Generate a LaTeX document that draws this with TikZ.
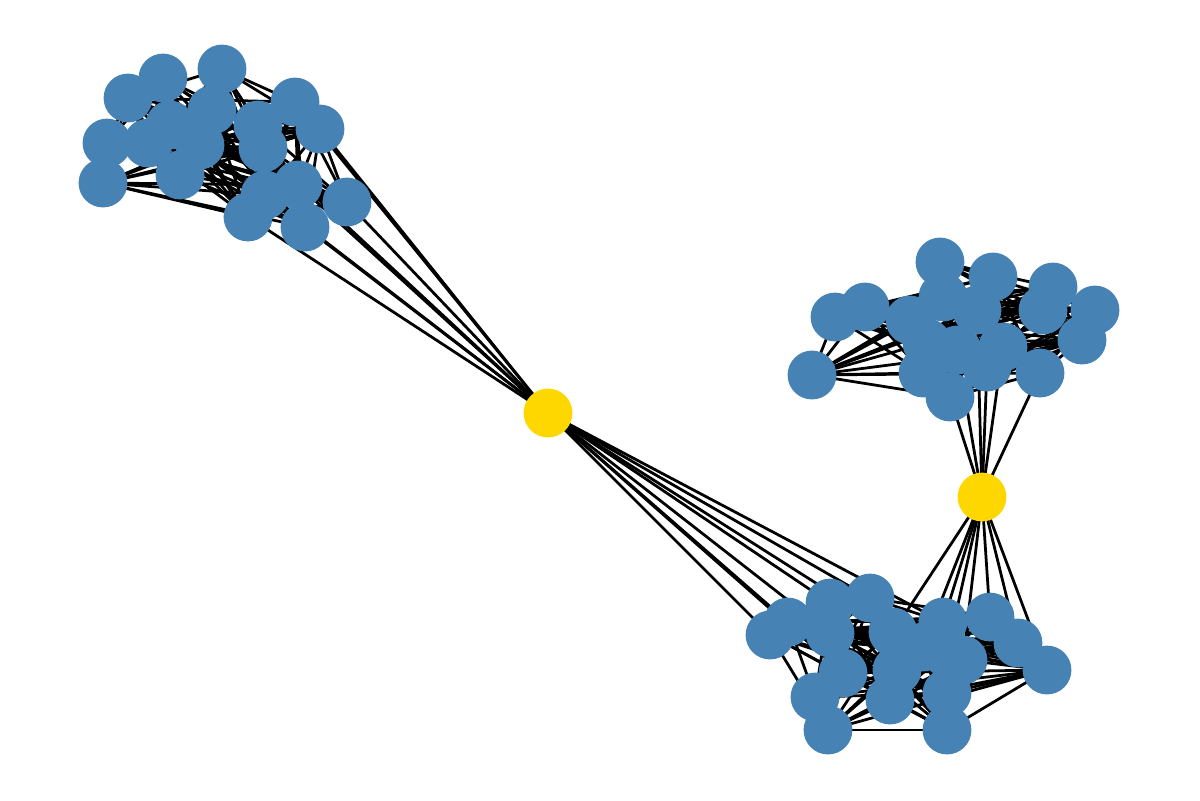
\documentclass[tikz,border=0pt]{standalone}
\usepackage{tikz}
\usetikzlibrary{backgrounds}
\definecolor{NodeBlue}{HTML}{4682B4}
\definecolor{BridgeGold}{HTML}{FFD700}

\begin{document}
\begin{tikzpicture}[x=0.0127cm,y=-0.0127cm,
  member/.style={circle,fill=NodeBlue,minimum size=0.62cm,inner sep=0pt},
  bridge/.style={circle,fill=BridgeGold,minimum size=0.62cm,inner sep=0pt},
  link/.style={black,line width=1pt}]
  \useasboundingbox (0,0) rectangle (1200,800);
  % upper left group
  \foreach \n/\x/\y in {a1/128/98,a2/163/78,a3/222/69,a4/295/102,a5/320/129,
      a6/107/143,a7/103/183,a8/148/143,a9/180/175,a10/212/110,a11/200/145,
      a12/258/125,a13/263/148,a14/265/195,a15/298/185,a16/248/217,
      a17/305/227,a18/347/202,a19/170/125}
    \node[member] (\n) at (\x,\y) {};
  % right group
  \foreach \n/\x/\y in {b1/940/262,b2/993/277,b3/1053/287,b4/1095/310,
      b5/1082/340,b6/1040/373,b7/987/367,b8/950/397,b9/923/373,b10/812/375,
      b11/835/317,b12/865/307,b13/910/320,b14/943/297,b15/1043/310,
      b16/977/310,b17/957/350,b18/1003/347,b19/927/343}
    \node[member] (\n) at (\x,\y) {};
  % lower group
  \foreach \n/\x/\y in {c1/770/635,c2/788/622,c3/830/603,c4/870/598,
      c5/830/633,c6/893/632,c7/943/622,c8/990/617,c9/1018/643,c10/1047/670,
      c11/843/673,c12/815/697,c13/828/730,c14/890/700,c15/947/730,
      c16/947/693,c17/897/670,c18/947/653,c19/923/647,c20/963/660}
    \node[member] (\n) at (\x,\y) {};
  % bridges
  \node[bridge] (y1) at (548,413) {};
  \node[bridge] (y2) at (982,497) {};
  \begin{scope}[on background layer]
    \foreach \c/\m in {a/19,b/19,c/20}
      \foreach \i in {1,...,\m}
        \foreach \j in {1,...,\m} {
          \pgfmathtruncatemacro\keep{(\j>\i)*(mod(\i*7+\j*11,10)<7)}
          \ifnum\keep=1 \draw[link] (\c\i.center) -- (\c\j.center);\fi
        }
    \foreach \t in {a4,a5,a13,a14,a15,a16,a17,a18,c1,c2,c3,c4,c5,c6,c7,c11}
      \draw[link] (y1.center) -- (\t.center);
    \foreach \t in {b6,b7,b8,b16,b17,b18,c6,c7,c8,c9,c10,c18,c19,c20}
      \draw[link] (y2.center) -- (\t.center);
  \end{scope}
\end{tikzpicture}
\end{document}
